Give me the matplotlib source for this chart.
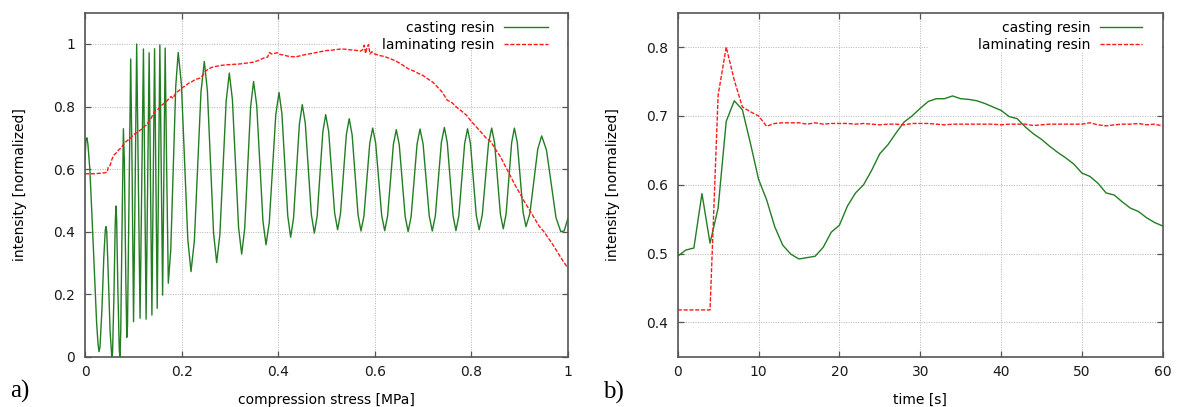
import matplotlib
matplotlib.use("Agg")
import matplotlib.pyplot as plt
from matplotlib.patches import Rectangle

# ---------------- data: panel a) ----------------
casting_stress = [
    0.000, 0.002, 0.004, 0.006, 0.010, 0.015, 0.020, 0.024, 0.027, 0.029, 0.031, 0.035, 0.039, 0.042, 0.0435,
    0.045, 0.048, 0.052, 0.0555, 0.057, 0.060, 0.0625, 0.064, 0.0655, 0.068, 0.071, 0.0725, 0.074, 0.077, 0.0795,
    0.0815, 0.0845, 0.0865, 0.088, 0.0915, 0.0946, 0.0975, 0.1005, 0.1035, 0.107, 0.1105, 0.114, 0.1175, 0.121,
    0.1237, 0.1265, 0.1297, 0.1328, 0.1357, 0.1385, 0.1412, 0.144, 0.1467, 0.1495, 0.1522, 0.155, 0.1578, 0.1607,
    0.1633, 0.166, 0.169, 0.1725, 0.1776, 0.1828, 0.1879, 0.193,
    0.1996, 0.2063, 0.2129, 0.2195, 0.2264, 0.2333, 0.2401, 0.247, 0.2534, 0.2598, 0.2662, 0.2726,
    0.2792, 0.2857, 0.2923, 0.2988, 0.3052, 0.3116, 0.318, 0.3244, 0.3306, 0.3367, 0.3429, 0.349,
    0.3555, 0.3619, 0.3684, 0.3748, 0.3815, 0.3883, 0.395, 0.4017, 0.4077, 0.4138, 0.4198, 0.4258,
    0.4318, 0.4379, 0.4439, 0.4499, 0.4561, 0.4624, 0.4686, 0.4748, 0.4807, 0.4866, 0.4924, 0.4983,
    0.5045, 0.5107, 0.5168, 0.523, 0.529, 0.535, 0.541, 0.547, 0.5531, 0.5592, 0.5653, 0.5714,
    0.5775, 0.5835, 0.5896, 0.5956, 0.6018, 0.6081, 0.6143, 0.6205, 0.6265, 0.6325, 0.6385, 0.6445,
    0.6506, 0.6568, 0.6629, 0.669, 0.6752, 0.6813, 0.6875, 0.6936, 0.700, 0.7063, 0.7127, 0.719,
    0.7253, 0.7315, 0.7378, 0.744, 0.750, 0.756, 0.762, 0.768, 0.774, 0.780, 0.786, 0.792,
    0.798, 0.804, 0.810, 0.816, 0.8225, 0.829, 0.8355, 0.842, 0.848, 0.854, 0.860, 0.866,
    0.8718, 0.8775, 0.8833, 0.889, 0.895, 0.901, 0.907, 0.913, 0.9211, 0.9293, 0.9374, 0.9455,
    0.9554, 0.9653, 0.9751, 0.985, 0.992, 1.000,
]
casting_intensity = [
    0.630, 0.695, 0.700, 0.680, 0.600, 0.430, 0.250, 0.110, 0.040, 0.016, 0.030, 0.150, 0.320, 0.405, 0.416,
    0.400, 0.270, 0.080, 0.000, 0.010, 0.200, 0.420, 0.482, 0.440, 0.220, 0.020, 0.000, 0.080, 0.450, 0.729,
    0.620, 0.250, 0.062, 0.100, 0.550, 0.952, 0.600, 0.112, 0.500, 1.000, 0.560, 0.123, 0.550, 0.984,
    0.560, 0.120, 0.550, 0.972, 0.560, 0.133, 0.560, 0.985, 0.570, 0.155, 0.580, 0.997, 0.600, 0.197,
    0.590, 0.987, 0.610, 0.235, 0.343, 0.604, 0.865, 0.973,
    0.871, 0.622, 0.374, 0.272, 0.370, 0.608, 0.846, 0.944, 0.850, 0.622, 0.395, 0.301,
    0.390, 0.604, 0.818, 0.907, 0.822, 0.617, 0.412, 0.328, 0.409, 0.604, 0.799, 0.880,
    0.804, 0.619, 0.434, 0.358, 0.429, 0.601, 0.774, 0.845, 0.777, 0.613, 0.450, 0.382,
    0.444, 0.594, 0.744, 0.806, 0.746, 0.600, 0.455, 0.395, 0.450, 0.584, 0.719, 0.774,
    0.720, 0.590, 0.460, 0.406, 0.458, 0.583, 0.709, 0.761, 0.709, 0.581, 0.454, 0.402,
    0.450, 0.566, 0.683, 0.731, 0.683, 0.567, 0.451, 0.403, 0.450, 0.564, 0.679, 0.726,
    0.678, 0.563, 0.448, 0.400, 0.448, 0.564, 0.680, 0.728, 0.680, 0.565, 0.450, 0.402,
    0.450, 0.567, 0.685, 0.733, 0.685, 0.568, 0.451, 0.403, 0.451, 0.566, 0.681, 0.729,
    0.682, 0.567, 0.453, 0.406, 0.453, 0.568, 0.683, 0.731, 0.684, 0.570, 0.456, 0.409,
    0.456, 0.570, 0.684, 0.731, 0.685, 0.573, 0.462, 0.416, 0.458, 0.561, 0.664, 0.706,
    0.661, 0.553, 0.445, 0.400, 0.402, 0.443,
]

laminating_stress = [
    0.000, 0.020, 0.040, 0.046, 0.048, 0.052, 0.056, 0.060, 0.065, 0.070, 0.075, 0.080, 0.085, 0.090, 0.095,
    0.100, 0.106, 0.112, 0.118, 0.124, 0.128, 0.132, 0.136, 0.140, 0.145, 0.150, 0.155, 0.160, 0.166, 0.172,
    0.178, 0.182, 0.186, 0.192, 0.197, 0.203, 0.208, 0.214, 0.220, 0.226, 0.232, 0.238, 0.244, 0.250, 0.256,
    0.262, 0.270, 0.280, 0.290, 0.300, 0.310, 0.320, 0.330, 0.340, 0.350, 0.360, 0.370, 0.378, 0.382, 0.386,
    0.392, 0.398, 0.402, 0.410, 0.420, 0.430, 0.440, 0.450, 0.460, 0.470, 0.480, 0.490, 0.500, 0.510, 0.520,
    0.530, 0.540, 0.550, 0.560, 0.570, 0.575, 0.578, 0.581, 0.584, 0.587, 0.590, 0.594, 0.600, 0.610, 0.620,
    0.630, 0.640, 0.650, 0.660, 0.670, 0.680, 0.690, 0.700, 0.710, 0.720, 0.730, 0.740, 0.750, 0.760, 0.770,
    0.780, 0.790, 0.800, 0.810, 0.820, 0.830, 0.840, 0.850, 0.860, 0.870, 0.880, 0.890, 0.900, 0.910, 0.920,
    0.930, 0.940, 0.950, 0.960, 0.970, 0.980, 0.990, 1.000,
]
laminating_intensity = [
    0.585, 0.585, 0.588, 0.590, 0.606, 0.612, 0.632, 0.645, 0.652, 0.662, 0.668, 0.680, 0.688, 0.694, 0.700,
    0.710, 0.715, 0.722, 0.728, 0.738, 0.742, 0.752, 0.760, 0.772, 0.785, 0.790, 0.797, 0.806, 0.812, 0.822,
    0.832, 0.826, 0.838, 0.848, 0.854, 0.862, 0.866, 0.874, 0.878, 0.884, 0.888, 0.891, 0.900, 0.914, 0.920,
    0.925, 0.928, 0.931, 0.933, 0.934, 0.935, 0.936, 0.938, 0.940, 0.942, 0.948, 0.955, 0.958, 0.973, 0.968,
    0.970, 0.972, 0.967, 0.965, 0.961, 0.959, 0.960, 0.964, 0.967, 0.970, 0.973, 0.976, 0.979, 0.980, 0.982,
    0.984, 0.983, 0.981, 0.980, 0.977, 0.982, 0.996, 0.970, 0.990, 0.998, 0.968, 0.975, 0.968, 0.963, 0.960,
    0.954, 0.948, 0.940, 0.930, 0.920, 0.914, 0.906, 0.899, 0.888, 0.878, 0.862, 0.845, 0.820, 0.812, 0.797,
    0.785, 0.772, 0.752, 0.735, 0.718, 0.700, 0.688, 0.663, 0.640, 0.610, 0.580, 0.550, 0.523, 0.495, 0.470,
    0.444, 0.418, 0.400, 0.378, 0.355, 0.330, 0.305, 0.283,
]

# ---------------- data: panel b) ----------------
time_s = list(range(0, 61))
casting_time_intensity = [
    0.496, 0.505, 0.508, 0.587, 0.515, 0.566, 0.692, 0.722, 0.709, 0.660, 0.608, 0.578, 0.539, 0.512, 0.499,
    0.492, 0.494, 0.496, 0.509, 0.531, 0.541, 0.569, 0.588, 0.600, 0.621, 0.645, 0.658, 0.675, 0.691, 0.700,
    0.711, 0.721, 0.725, 0.725, 0.729, 0.725, 0.724, 0.722, 0.718, 0.713, 0.708, 0.699, 0.696, 0.684, 0.674,
    0.666, 0.656, 0.647, 0.639, 0.630, 0.617, 0.612, 0.602, 0.588, 0.585, 0.575, 0.566, 0.561, 0.552, 0.545,
    0.540,
]
laminating_time_intensity = [
    0.418, 0.418, 0.418, 0.418, 0.418, 0.730, 0.800, 0.752, 0.713, 0.706, 0.700, 0.685, 0.689, 0.690, 0.690,
    0.690, 0.688, 0.690, 0.688, 0.689, 0.689, 0.689, 0.688, 0.689, 0.688, 0.687, 0.688, 0.688, 0.687, 0.689,
    0.689, 0.689, 0.688, 0.687, 0.688, 0.688, 0.688, 0.688, 0.688, 0.688, 0.687, 0.688, 0.688, 0.688, 0.686,
    0.687, 0.688, 0.688, 0.688, 0.688, 0.688, 0.690, 0.687, 0.6855, 0.687, 0.688, 0.688, 0.689, 0.687, 0.688,
    0.6855,
]

series_labels = ["casting resin", "laminating resin"]
xticks_a = [0, 0.2, 0.4, 0.6, 0.8, 1.0]
xticklabels_a = ["0", "0.2", "0.4", "0.6", "0.8", "1"]
yticks_a = [0, 0.2, 0.4, 0.6, 0.8, 1.0]
yticklabels_a = ["0", "0.2", "0.4", "0.6", "0.8", "1"]
xticks_b = [0, 10, 20, 30, 40, 50, 60]
yticks_b = [0.4, 0.5, 0.6, 0.7, 0.8]

# ---------------- style ----------------
plt.rcParams['font.family'] = ['DejaVu Sans']
GREEN = '#237d23'
RED = '#ff1a1a'
FRAME = '#555555'

fig = plt.figure(figsize=(11.79, 4.07), dpi=100)
W, H = 1179.0, 407.0


def make_axes(l, r, t, b):
    return fig.add_axes([l / W, 1 - b / H, (r - l) / W, (b - t) / H])


def style(ax):
    for s in ax.spines.values():
        s.set_color(FRAME)
        s.set_linewidth(1.2)
    ax.tick_params(direction='in', top=True, right=True, length=4.5, width=0.9,
                   color=FRAME, labelsize=10, labelcolor='#1a1a1a')
    ax.tick_params(axis='y', pad=7)
    ax.tick_params(axis='x', pad=6)
    ax.grid(True, linestyle=(0, (1, 1.5)), color='#b4b4b4', linewidth=0.7)
    ax.set_axisbelow(True)


# panel a
ax1 = make_axes(85, 568, 12.7, 356.7)
style(ax1)
ax1.plot(casting_stress, casting_intensity, color=GREEN, lw=1.0, label=series_labels[0], zorder=3)
ax1.plot(laminating_stress, laminating_intensity, color=RED, lw=1.0, dashes=(3, 1.2),
         label=series_labels[1], zorder=3)
ax1.set_xlim(0, 1)
ax1.set_ylim(0, 1.1)
ax1.set_xticks(xticks_a)
ax1.set_xticklabels(xticklabels_a)
ax1.set_yticks(yticks_a)
ax1.set_yticklabels(yticklabels_a)
ax1.set_xlabel("compression stress [MPa]", fontsize=10, labelpad=10)
ax1.set_ylabel("intensity [normalized]", fontsize=10, labelpad=19)
ax1.add_patch(Rectangle((0.522, 0.897), 0.476, 0.101, transform=ax1.transAxes,
                        facecolor='white', edgecolor='none', zorder=1.5))
ax1.legend(loc='upper right', bbox_to_anchor=(0.959, 0.975), markerfirst=False, frameon=False,
           handlelength=3.2, handletextpad=0.7, labelspacing=0.2, borderaxespad=0, borderpad=0,
           fontsize=10)

# panel b
ax2 = make_axes(677.7, 1162.7, 12.7, 356.7)
style(ax2)
ax2.plot(time_s, casting_time_intensity, color=GREEN, lw=1.0, label=series_labels[0], zorder=3)
ax2.plot(time_s, laminating_time_intensity, color=RED, lw=1.0, dashes=(3, 1.2),
         label=series_labels[1], zorder=3)
ax2.set_xlim(0, 60)
ax2.set_ylim(0.35, 0.85)
ax2.set_xticks(xticks_b)
ax2.set_yticks(yticks_b)
ax2.set_xlabel("time [s]", fontsize=10, labelpad=10)
ax2.set_ylabel("intensity [normalized]", fontsize=10, labelpad=19)
ax2.add_patch(Rectangle((0.516, 0.886), 0.482, 0.112, transform=ax2.transAxes,
                        facecolor='white', edgecolor='none', zorder=1.5))
ax2.legend(loc='upper right', bbox_to_anchor=(0.957, 0.975), markerfirst=False, frameon=False,
           handlelength=3.0, handletextpad=0.7, labelspacing=0.2, borderaxespad=0, borderpad=0,
           fontsize=10)

fig.text(10 / W, 1 - 391 / H, "a)", fontsize=18, family='Liberation Serif', va='center', ha='left')
fig.text(603 / W, 1 - 392 / H, "b)", fontsize=18, family='Liberation Serif', va='center', ha='left')

fig.savefig("out.png", dpi=100)
